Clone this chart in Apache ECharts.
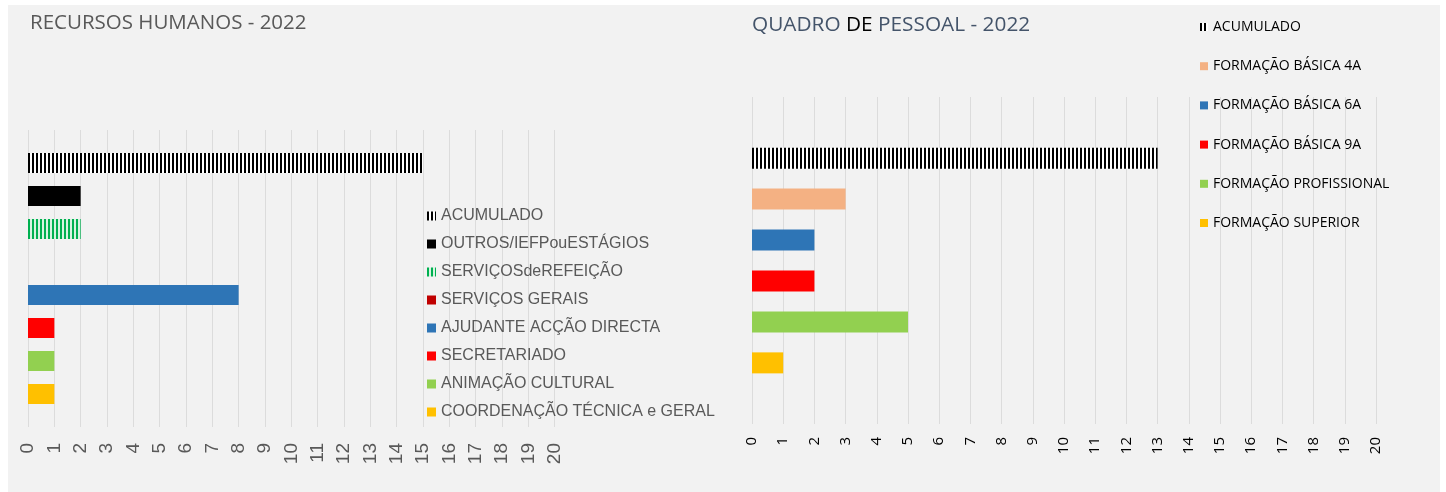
<!DOCTYPE html>
<html>
<head>
<meta charset="utf-8">
<script src="https://cdn.jsdelivr.net/npm/echarts@6/dist/echarts.min.js"></script>
<style>
html,body{margin:0;padding:0;background:#fff;}
#c{width:1446px;height:492px;}
</style>
</head>
<body>
<div id="c"></div>
<script>
// ---- data ----
const leftTitle = 'RECURSOS HUMANOS - 2022';
const leftSeriesNames = ['ACUMULADO', 'OUTROS/IEFPouESTÁGIOS', 'SERVIÇOSdeREFEIÇÃO', 'SERVIÇOS GERAIS', 'AJUDANTE ACÇÃO DIRECTA', 'SECRETARIADO', 'ANIMAÇÃO CULTURAL', 'COORDENAÇÃO TÉCNICA e GERAL'];
const leftValues = [15, 2, 2, 0, 8, 1, 1, 1];
const rightSeriesNames = ['ACUMULADO', 'FORMAÇÃO BÁSICA 4A', 'FORMAÇÃO BÁSICA 6A', 'FORMAÇÃO BÁSICA 9A', 'FORMAÇÃO PROFISSIONAL', 'FORMAÇÃO SUPERIOR'];
const rightValues = [13, 3, 2, 2, 5, 1];
const axisMin = 0, axisMax = 20, axisStep = 1;

function stripes(c1, w1, c2, w2) {
  const cv = document.createElement('canvas');
  cv.width = w1 + w2; cv.height = 4;
  const ctx = cv.getContext('2d');
  ctx.fillStyle = c1; ctx.fillRect(0, 0, w1, 4);
  ctx.fillStyle = c2; ctx.fillRect(w1, 0, w2, 4);
  return { image: cv, repeat: 'repeat' };
}
const blackStripe = stripes('#000000', 2, '#ffffff', 2);
const greenStripe = stripes('#00b050', 2, '#d8f3e2', 2);

const leftColors = [blackStripe, '#000000', greenStripe, '#c00000', '#2e75b6', '#ff0000', '#92d050', '#ffc000'];
const rightColors = [blackStripe, '#f4b183', '#2e75b6', '#ff0000', '#92d050', '#ffc000'];

const chart = echarts.init(document.getElementById('c'), null, { renderer: 'canvas' });

function xAxisDef(gridIndex, labelColor, fontFamily, fontSize, margin) {
  return {
    type: 'value', gridIndex: gridIndex, min: axisMin, max: axisMax, interval: axisStep,
    axisLine: { show: false }, axisTick: { show: false },
    splitLine: { show: true, lineStyle: { color: '#dcdcdc', width: 1 } },
    axisLabel: { rotate: 90, color: labelColor, fontFamily: fontFamily, fontSize: fontSize, margin: margin }
  };
}
function yAxisDef(gridIndex) {
  return { type: 'category', gridIndex: gridIndex, data: [''], show: false };
}

const series = [];
leftSeriesNames.forEach((n, i) => {
  series.push({
    type: 'bar', name: n, xAxisIndex: 0, yAxisIndex: 0,
    data: [leftValues[i]], barWidth: 20, barGap: '65%',
    itemStyle: { color: leftColors[i] }, silent: true
  });
});
rightSeriesNames.forEach((n, i) => {
  series.push({
    type: 'bar', name: n, xAxisIndex: 1, yAxisIndex: 1,
    data: [rightValues[i]], barWidth: 21, barGap: '95%',
    itemStyle: { color: rightColors[i] }, silent: true
  });
});

chart.setOption({
  animation: false,
  backgroundColor: 'transparent',
  graphic: [{
    type: 'rect', z: -100, silent: true,
    shape: { x: 8, y: 5, width: 1432, height: 487 },
    style: { fill: '#f2f2f2' }
  }],
  title: [
    { text: leftTitle, left: 30, top: 10, padding: 0,
      textStyle: { fontFamily: 'Open Sans', fontSize: 20.5, fontWeight: 'normal', color: '#595959', lineHeight: 26 } },
    { text: '{a|QUADRO }{b|DE}{a| PESSOAL - 2022}', left: 752, top: 12, padding: 0,
      textStyle: { fontWeight: 'normal', rich: {
        a: { fontFamily: 'Open Sans', fontSize: 20.8, fontWeight: 'normal', color: '#44546a', lineHeight: 26 },
        b: { fontFamily: 'Open Sans', fontSize: 20.8, fontWeight: 'normal', color: '#000000', lineHeight: 26 }
      } } }
  ],
  grid: [
    { left: 28, top: 130, width: 526.6, height: 297, containLabel: false },
    { left: 752, top: 97, width: 624, height: 327, containLabel: false }
  ],
  xAxis: [
    xAxisDef(0, '#595959', 'Liberation Sans', 19, 16),
    xAxisDef(1, '#000000', 'Open Sans', 15, 13)
  ],
  yAxis: [yAxisDef(0), yAxisDef(1)],
  legend: [
    { data: leftSeriesNames, orient: 'vertical', left: 427, top: 208, padding: 0,
      itemWidth: 9, itemHeight: 9, itemGap: 12, icon: 'rect', selectedMode: false,
      textStyle: { fontFamily: 'Liberation Sans', fontSize: 16, color: '#595959', lineHeight: 16 } },
    { data: rightSeriesNames, orient: 'vertical', left: 1200, top: 20, padding: 0,
      itemWidth: 8, itemHeight: 8, itemGap: 25.2, icon: 'rect', selectedMode: false,
      textStyle: { fontFamily: 'Open Sans', fontSize: 14, color: '#000000', lineHeight: 14 } }
  ],
  series: series
});
</script>
</body>
</html>
